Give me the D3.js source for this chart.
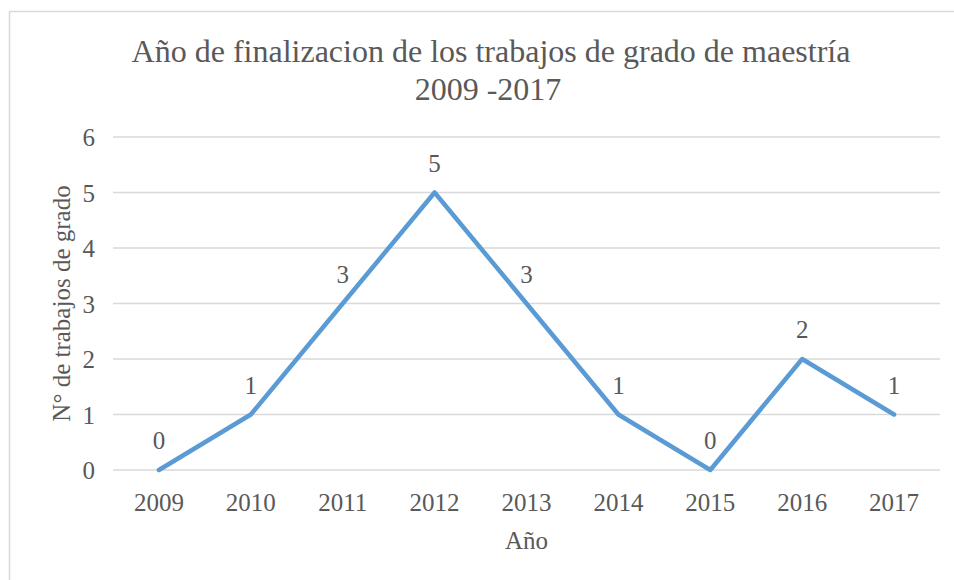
<!DOCTYPE html>
<html>
<head>
<meta charset="utf-8">
<script src="https://d3js.org/d3.v7.min.js"></script>
</head>
<body style="margin:0">
<svg id="chart" width="954" height="580"></svg>
<script>
    const years = ["2009","2010","2011","2012","2013","2014","2015","2016","2017"];
    const counts = [0, 1, 3, 5, 3, 1, 0, 2, 1];
    const yTicks = [0, 1, 2, 3, 4, 5, 6];

    const textColor = "#595959";
    const width = 954, height = 580;
    const margin = { top: 137, right: 14, bottom: 110, left: 113 };

    const svg = d3.select("#chart");

    // chart frame
    svg.append("rect")
        .attr("x", 9.5).attr("y", 11.5)
        .attr("width", 960).attr("height", 600)
        .attr("fill", "none").attr("stroke", "#d9d9d9").attr("stroke-width", 1.5);

    const x = d3.scalePoint()
        .domain(years)
        .range([margin.left, width - margin.right])
        .padding(0.5);

    const y = d3.scaleLinear()
        .domain([0, 6])
        .range([height - margin.bottom, margin.top]);

    // gridlines
    svg.selectAll("line.grid")
        .data(yTicks)
        .join("line")
        .attr("class", "grid")
        .attr("x1", margin.left).attr("x2", width - margin.right)
        .attr("y1", d => y(d)).attr("y2", d => y(d))
        .attr("stroke", "#d9d9d9").attr("stroke-width", 1.5);

    const line = d3.line()
        .x((d, i) => x(years[i]))
        .y(d => y(d));

    svg.append("path")
        .datum(counts)
        .attr("d", line)
        .attr("fill", "none")
        .attr("stroke", "#5b9bd5")
        .attr("stroke-width", 4.5)
        .attr("stroke-linejoin", "round")
        .attr("stroke-linecap", "round");

    function label(sel) {
        return sel.attr("font-family", "Liberation Serif")
            .attr("font-size", 25)
            .attr("fill", textColor);
    }

    // y tick labels
    svg.selectAll("text.ytick")
        .data(yTicks)
        .join("text")
        .attr("class", "ytick")
        .attr("x", 95).attr("y", d => y(d) + 9)
        .attr("text-anchor", "end")
        .call(label)
        .text(d => d);

    // x tick labels
    svg.selectAll("text.xtick")
        .data(years)
        .join("text")
        .attr("class", "xtick")
        .attr("x", d => x(d)).attr("y", y(0) + 41)
        .attr("text-anchor", "middle")
        .call(label)
        .text(d => d);

    // data labels
    svg.selectAll("text.dlabel")
        .data(counts)
        .join("text")
        .attr("class", "dlabel")
        .attr("x", (d, i) => x(years[i]))
        .attr("y", d => y(d) - 21)
        .attr("text-anchor", "middle")
        .call(label)
        .text(d => d);

    // title
    svg.append("text")
        .attr("x", 491).attr("y", 62)
        .attr("text-anchor", "middle")
        .call(label)
        .attr("font-size", 32)
        .text("Año de finalizacion de los trabajos de grado de maestría");
    svg.append("text")
        .attr("x", 488).attr("y", 100)
        .attr("text-anchor", "middle")
        .call(label)
        .attr("font-size", 32)
        .text("2009 -2017");

    // axis titles
    svg.append("text")
        .attr("transform", `translate(70,${(y(0) + y(6)) / 2}) rotate(-90)`)
        .attr("text-anchor", "middle")
        .call(label)
        .text("N° de trabajos de grado");

    svg.append("text")
        .attr("x", (margin.left + width - margin.right) / 2)
        .attr("y", 549)
        .attr("text-anchor", "middle")
        .call(label)
        .text("Año");
</script>
</body>
</html>
